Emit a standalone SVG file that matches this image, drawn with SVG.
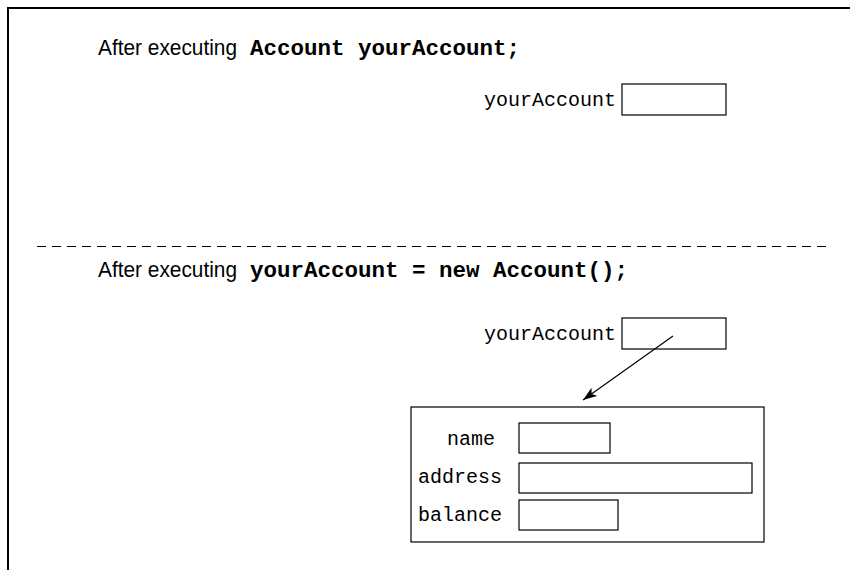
<svg xmlns="http://www.w3.org/2000/svg" width="850" height="570" viewBox="0 0 850 570">
  <style>
    .caption { font-family: "Liberation Sans", Arial, sans-serif; font-size: 22px; fill: #000; }
    .code { font-family: "Liberation Mono", "Courier New", monospace; font-size: 22.5px; font-weight: bold; fill: #000; }
    .label { font-family: "Liberation Mono", "Courier New", monospace; font-size: 20px; fill: #000; }
    .slot { fill: #fff; stroke: #000; stroke-width: 1.2; }
    .frame { fill: none; stroke: #000; stroke-width: 2; }
    .divider { fill: none; stroke: #000; stroke-width: 1.2; stroke-dasharray: 9 6; }
    .link { fill: none; stroke: #000; stroke-width: 1.2; }
  </style>
  <defs>
    <marker id="arrowhead" markerUnits="userSpaceOnUse" markerWidth="16" markerHeight="12" refX="14" refY="5" orient="auto">
      <path d="M0,0 L14,5 L0,10 L3.5,5 Z" fill="#000"/>
    </marker>
  </defs>

  <rect width="850" height="570" fill="#fff"/>

  <!-- page frame: top and left rules -->
  <path class="frame" d="M8,570 L8,8 L850,8"/>

  <!-- section 1: declaration only -->
  <g id="caption-declare">
    <text class="caption" x="98" y="55" textLength="139" lengthAdjust="spacingAndGlyphs">After executing</text>
    <text class="code" x="250" y="55">Account yourAccount;</text>
  </g>
  <g id="var-declared">
    <text class="label" x="484" y="106">yourAccount</text>
    <rect class="slot" x="622" y="84" width="104" height="31"/>
  </g>

  <!-- section separator -->
  <line class="divider" x1="37" y1="246.5" x2="829" y2="246.5"/>

  <!-- section 2: after instantiation -->
  <g id="caption-new">
    <text class="caption" x="98" y="277" textLength="139" lengthAdjust="spacingAndGlyphs">After executing</text>
    <text class="code" x="250" y="277">yourAccount = new Account();</text>
  </g>
  <g id="var-reference">
    <text class="label" x="484" y="340">yourAccount</text>
    <rect class="slot" x="622" y="318" width="104" height="31"/>
  </g>

  <g id="account-object">
    <rect class="slot" x="411" y="407" width="353" height="135"/>
    <text class="label" x="447" y="445">name</text>
    <rect class="slot" x="519" y="423" width="91" height="30"/>
    <text class="label" x="418" y="483">address</text>
    <rect class="slot" x="519" y="463" width="233" height="30"/>
    <text class="label" x="418" y="521">balance</text>
    <rect class="slot" x="519" y="500" width="99" height="30"/>
  </g>

  <!-- reference pointer -->
  <g id="connectors">
    <line class="link" x1="673" y1="336" x2="583" y2="400" marker-end="url(#arrowhead)"/>
  </g>
</svg>
